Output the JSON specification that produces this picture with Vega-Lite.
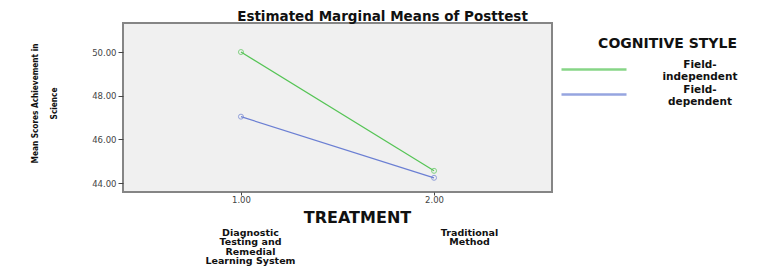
{
  "$schema": "https://vega.github.io/schema/vega-lite/v6.json",
  "width": 429,
  "height": 169,
  "autosize": {"type": "none"},
  "padding": {"left": 123, "top": 23, "right": 213, "bottom": 74},
  "background": "white",
  "title": {
    "text": "Estimated Marginal Means of Posttest",
    "font": "DejaVu Sans",
    "fontSize": 13.5,
    "fontWeight": "bold",
    "color": "#111",
    "anchor": "middle",
    "dx": 45,
    "dy": 13,
    "offset": 2,
    "baseline": "alphabetic"
  },
  "config": {
    "view": {"fill": "#f0f0f0", "stroke": "#858585", "strokeWidth": 2},
    "axis": {"grid": false, "domain": false}
  },
  "data": {
    "values": [
      {"treatment": 1, "style": "Field-independent", "mean": 50.0},
      {"treatment": 2, "style": "Field-independent", "mean": 44.56},
      {"treatment": 1, "style": "Field-dependent", "mean": 47.04},
      {"treatment": 2, "style": "Field-dependent", "mean": 44.24}
    ]
  },
  "resolve": {"axis": {"x": "independent"}},
  "layer": [
    {
      "mark": {"type": "line", "strokeWidth": 1.2},
      "encoding": {
        "x": {
          "field": "treatment",
          "type": "quantitative",
          "scale": {"domain": [0.389, 2.611], "nice": false, "zero": false},
          "axis": {
            "orient": "bottom",
            "values": [1, 2],
            "format": ".2f",
            "labelFont": "DejaVu Sans",
            "labelFontSize": 8.5,
            "labelColor": "#444",
            "labelPadding": 0,
            "labelFlush": false,
            "tickSize": 3,
            "tickColor": "#444",
            "title": "TREATMENT",
            "titleFont": "DejaVu Sans",
            "titleFontSize": 16,
            "titleFontWeight": "bold",
            "titleColor": "#111",
            "titleAlign": "center",
            "titleBaseline": "middle",
            "titleX": 234,
            "titleY": 25
          }
        },
        "y": {
          "field": "mean",
          "type": "quantitative",
          "scale": {"domain": [43.59, 51.33], "nice": false, "zero": false},
          "axis": {
            "values": [44, 46, 48, 50],
            "format": ".2f",
            "labelFont": "DejaVu Sans",
            "labelFontSize": 8.5,
            "labelColor": "#444",
            "labelPadding": 2,
            "tickSize": 5,
            "tickColor": "#444",
            "title": ["Mean Scores Achievement in", "Science"],
            "titleFont": "DejaVu Sans Condensed, sans-serif",
            "titleFontSize": 8.2,
            "titleFontWeight": "bold",
            "titleColor": "#111",
            "titleAngle": -90,
            "titleAlign": "center",
            "titleBaseline": "bottom",
            "titleLineHeight": 19,
            "titleX": -84,
            "titleY": 80
          }
        },
        "color": {
          "field": "style",
          "type": "nominal",
          "scale": {"domain": ["Field-independent", "Field-dependent"], "range": ["#55c455", "#6b7fd3"]},
          "legend": {
            "orient": "none",
            "legendX": 437,
            "legendY": 14,
            "title": "COGNITIVE STYLE",
            "titleFont": "DejaVu Sans",
            "titleFontSize": 14,
            "titleFontWeight": "bold",
            "titleColor": "#111",
            "titleAnchor": "end",
            "titlePadding": 7,
            "symbolType": "M-1,0H5.5",
            "symbolSize": 400,
            "symbolStrokeWidth": 2.5,
            "symbolOpacity": 0.4,
            "labelExpr": "datum.label == 'Field-independent' ? ['Field-', 'independent'] : ['Field-', 'dependent']",
            "labelFont": "DejaVu Sans",
            "labelFontSize": 10.5,
            "labelFontWeight": "bold",
            "labelColor": "#111",
            "labelAlign": "center",
            "labelBaseline": "bottom",
            "labelLineHeight": 10,
            "labelOffset": 117,
            "rowPadding": -7
          }
        }
      }
    },
    {
      "mark": {"type": "point", "filled": false, "size": 25, "strokeWidth": 1},
      "encoding": {
        "x": {
          "field": "treatment",
          "type": "quantitative",
          "axis": {
            "orient": "bottom",
            "offset": 35,
            "values": [1, 2],
            "domain": false,
            "ticks": false,
            "labelFlush": false,
            "labelOverlap": false,
            "labelExpr": "datum.value == 1 ? ['Diagnostic', 'Testing and', 'Remedial', 'Learning System'] : ['Traditional', 'Method']",
            "labelFont": "DejaVu Sans",
            "labelFontSize": 9.5,
            "labelFontWeight": "bold",
            "labelColor": "#111",
            "labelLineHeight": 9.5,
            "labelBaseline": "top",
            "labelPadding": 0,
            "labelOffset": {"condition": {"test": "datum.value == 1", "value": 9}, "value": 35},
            "title": null
          }
        },
        "y": {"field": "mean", "type": "quantitative"},
        "color": {"field": "style", "type": "nominal"}
      }
    }
  ]
}
